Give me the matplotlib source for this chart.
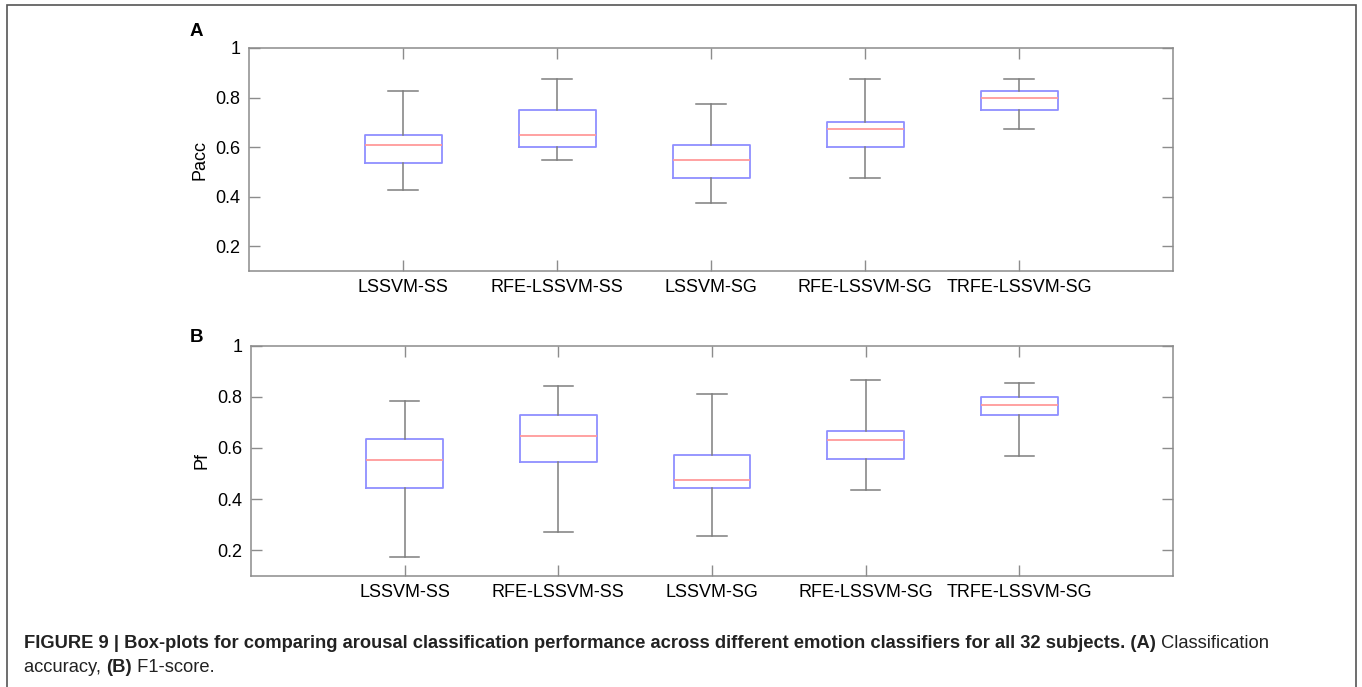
import matplotlib
matplotlib.use("Agg")
import matplotlib.pyplot as plt
from matplotlib.patches import Rectangle

plt.rcParams['font.family'] = ['Liberation Sans', 'DejaVu Sans']

# classifiers
classifiers = ['LSSVM-SS', 'RFE-LSSVM-SS', 'LSSVM-SG', 'RFE-LSSVM-SG', 'TRFE-LSSVM-SG']

# panel A - Pacc (lower whisker, Q1, median, Q3, upper whisker)
pacc_low = [0.425, 0.55, 0.375, 0.475, 0.675]
pacc_q1 = [0.535, 0.60, 0.475, 0.60, 0.75]
pacc_med = [0.61, 0.65, 0.55, 0.675, 0.80]
pacc_q3 = [0.65, 0.75, 0.61, 0.70, 0.825]
pacc_high = [0.825, 0.875, 0.775, 0.875, 0.875]

# panel B - Pf
pf_low = [0.173, 0.271, 0.255, 0.435, 0.569]
pf_q1 = [0.444, 0.546, 0.444, 0.558, 0.729]
pf_med = [0.553, 0.647, 0.474, 0.630, 0.767]
pf_q3 = [0.635, 0.728, 0.573, 0.667, 0.798]
pf_high = [0.784, 0.843, 0.812, 0.867, 0.855]

yticks = [0.2, 0.4, 0.6, 0.8, 1]
ytick_labels = ['0.2', '0.4', '0.6', '0.8', '1']

W, H = 1362, 687
fig = plt.figure(figsize=(W / 100, H / 100), dpi=100)

# frame around the figure
fig.add_artist(Rectangle((7 / W, -0.05), 1349 / W, 1.05 - 5 / H, transform=fig.transFigure,
                         fill=False, edgecolor='#555555', linewidth=1.2))

spine_col = '#8c8c8c'


def make_stats(low, q1, med, q3, high):
    stats = []
    for i in range(len(low)):
        stats.append({'whislo': low[i], 'q1': q1[i], 'med': med[i], 'q3': q3[i],
                      'whishi': high[i], 'fliers': []})
    return stats


def draw_panel(rect, stats, ylabel, letter, letter_y):
    ax = fig.add_axes(rect)
    pos = list(range(1, len(classifiers) + 1))
    ax.bxp(stats, positions=pos, widths=0.5, capwidths=0.19, showfliers=False,
           boxprops=dict(color='#8f8fff', linewidth=1.3),
           medianprops=dict(color='#ff9a9a', linewidth=1.3),
           whiskerprops=dict(color='#7f7f7f', linewidth=1.1, linestyle='-'),
           capprops=dict(color='#7f7f7f', linewidth=1.1))
    ax.set_xlim(0, 6)
    ax.set_ylim(0.1, 1)
    ax.set_xticks(pos)
    ax.set_xticklabels(classifiers, fontsize=13)
    ax.set_yticks(yticks)
    ax.set_yticklabels(ytick_labels, fontsize=13)
    ax.tick_params(direction='in', length=8, width=1, color=spine_col,
                   top=True, right=True, pad=6)
    for s in ax.spines.values():
        s.set_color(spine_col)
        s.set_linewidth(1.1)
    ax.set_ylabel(ylabel, fontsize=13, labelpad=5)
    fig.text(190 / W, 1 - letter_y / H, letter, fontsize=13.5,
             fontweight='bold', ha='left', va='center')
    return ax


draw_panel([249 / W, 1 - 271 / H, 924 / W, 223 / H],
           make_stats(pacc_low, pacc_q1, pacc_med, pacc_q3, pacc_high), 'Pacc', 'A', 31)
draw_panel([251 / W, 1 - 576 / H, 922 / W, 230.5 / H],
           make_stats(pf_low, pf_q1, pf_med, pf_q3, pf_high), 'Pf', 'B', 337)

# caption with mixed bold / regular pieces
line1 = [("FIGURE 9 | Box-plots for comparing arousal classification performance across "
          "different emotion classifiers for all 32 subjects. (A)", 'bold'),
         (" Classification", 'normal')]
line2 = [("accuracy, ", 'normal'), ("(B)", 'bold'), (" F1-score.", 'normal')]

fig.canvas.draw()
renderer = fig.canvas.get_renderer()
cap_size = 12.2


def draw_line(pieces, y_px, size):
    x = 24
    for txt, wt in pieces:
        t = fig.text(x / W, 1 - y_px / H, txt, fontsize=size, fontweight=wt,
                     color='#222222', ha='left', va='center')
        bb = t.get_window_extent(renderer=renderer)
        x += bb.width
    return x


# fit the first caption line to the reference width
probe = fig.text(0, 0, line1[0][0] + line1[1][0], fontsize=cap_size, fontweight='bold')
w = probe.get_window_extent(renderer=renderer).width
probe.remove()
cap_size = cap_size * 1258 / w

draw_line(line1, 644, cap_size)
draw_line(line2, 667, cap_size)

fig.savefig('out.png', dpi=100)
